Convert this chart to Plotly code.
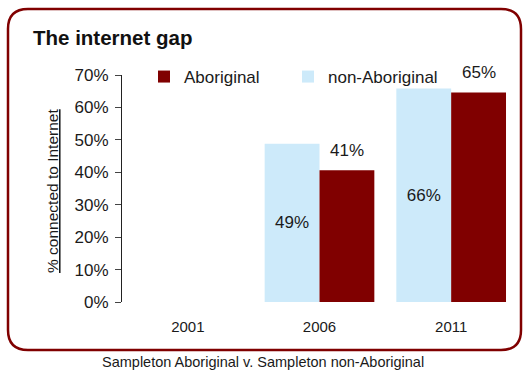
import plotly.graph_objects as go

years = ["2001", "2006", "2011"]
aboriginal = [None, 0.406, 0.646]
non_aboriginal = [None, 0.488, 0.658]
aboriginal_labels = ["", "41%", "65%"]
non_aboriginal_labels = ["", "49%", "66%"]
y_ticks = [0, 0.1, 0.2, 0.3, 0.4, 0.5, 0.6, 0.7]

W, H = 523, 372
ML, MR, MT, MB = 122, 6, 75, 70
PW, PH = W - ML - MR, H - MT - MB
BARGAP = 0.167

FONT = "Liberation Sans, Arial, Helvetica, sans-serif"
MAROON = "#800000"
LIGHTBLUE = "#cdeafa"


def px(x):
    return (x - ML) / PW


def py(y):
    return (H - MB - y) / PH


def rounded_box(x0, y0, x1, y1, r):
    pts = [
        f"M {px(x0 + r)} {py(y0)}",
        f"L {px(x1 - r)} {py(y0)}",
        f"Q {px(x1)} {py(y0)} {px(x1)} {py(y0 + r)}",
        f"L {px(x1)} {py(y1 - r)}",
        f"Q {px(x1)} {py(y1)} {px(x1 - r)} {py(y1)}",
        f"L {px(x0 + r)} {py(y1)}",
        f"Q {px(x0)} {py(y1)} {px(x0)} {py(y1 - r)}",
        f"L {px(x0)} {py(y0 + r)}",
        f"Q {px(x0)} {py(y0)} {px(x0 + r)} {py(y0)}",
        "Z",
    ]
    return " ".join(pts)


fig = go.Figure()
fig.add_trace(go.Bar(
    x=years, y=non_aboriginal, name="non-Aboriginal",
    marker=dict(color=LIGHTBLUE, line=dict(width=0)),
    text=non_aboriginal_labels, textposition="inside", insidetextanchor="middle",
    textfont=dict(family=FONT, size=17, color="#1a1a1a"),
    legend="legend2", hoverinfo="skip",
))
fig.add_trace(go.Bar(
    x=years, y=aboriginal, name="Aboriginal",
    marker=dict(color=MAROON, line=dict(width=0)),
    legend="legend", hoverinfo="skip",
))

cat_w = PW / len(years)
bar_w = cat_w * (1 - BARGAP) / 2

annotations = []
for i, (v, lab) in enumerate(zip(aboriginal, aboriginal_labels)):
    if v is None:
        continue
    annotations.append(dict(
        x=i, y=v, xref="x", yref="y", text=lab, showarrow=False,
        xshift=bar_w / 2, yshift=20, yanchor="middle",
        font=dict(family=FONT, size=17, color="#1a1a1a"),
    ))

annotations.append(dict(
    x=px(52), y=py(191), xref="paper", yref="paper",
    text="% connected to Internet", textangle=-90, showarrow=False,
    xanchor="center", yanchor="middle",
    font=dict(family=FONT, size=15.5, color="#1a1a1a", lineposition="under"),
))
annotations.append(dict(
    x=px(263), y=py(362), xref="paper", yref="paper",
    text="Sampleton Aboriginal v. Sampleton non-Aboriginal", showarrow=False,
    xanchor="center", yanchor="middle",
    font=dict(family=FONT, size=14.5, color="#1a1a1a"),
))

legend_common = dict(
    orientation="h", xanchor="left", yanchor="top",
    font=dict(family=FONT, size=17, color="#1a1a1a"),
    bgcolor="rgba(0,0,0,0)", itemclick=False, itemdoubleclick=False,
)

fig.update_layout(
    width=W, height=H,
    margin=dict(l=ML, r=MR, t=MT, b=MB),
    paper_bgcolor="white", plot_bgcolor="white",
    barmode="group", bargap=BARGAP, bargroupgap=0,
    font=dict(family=FONT, color="#1a1a1a"),
    title=dict(
        text="<b>The internet gap</b>", xref="container", yref="container",
        x=33 / W, xanchor="left", y=1 - 38 / H, yanchor="middle",
        font=dict(family=FONT, size=20.5, color="#111111"),
    ),
    showlegend=True,
    legend=dict(x=px(144), y=py(59), **legend_common),
    legend2=dict(x=px(288), y=py(59), **legend_common),
    xaxis=dict(
        type="category", categoryorder="array", categoryarray=years,
        range=[-0.5, len(years) - 0.5], autorange=False,
        showline=False, showgrid=False, zeroline=False, ticks="",
        tickfont=dict(family=FONT, size=15, color="#1a1a1a"),
        ticklabelstandoff=14, fixedrange=True,
    ),
    yaxis=dict(
        range=[0, 0.7], autorange=False, tickvals=y_ticks, tickformat=".0%",
        showline=True, linecolor="#222222", linewidth=1,
        ticks="outside", ticklen=6, tickcolor="#444444",
        showgrid=False, zeroline=False,
        tickfont=dict(family=FONT, size=17, color="#1a1a1a"),
        ticklabelstandoff=3, fixedrange=True,
    ),
    annotations=annotations,
    shapes=[dict(
        type="path", xref="paper", yref="paper",
        path=rounded_box(8, 9, 521, 350, 20),
        line=dict(color=MAROON, width=2.5), fillcolor="rgba(0,0,0,0)",
        layer="below",
    )],
)

fig.write_html(
    "out.html",
    config={"displayModeBar": False},
    post_script="document.body.style.margin='0';document.body.style.padding='0';",
)
